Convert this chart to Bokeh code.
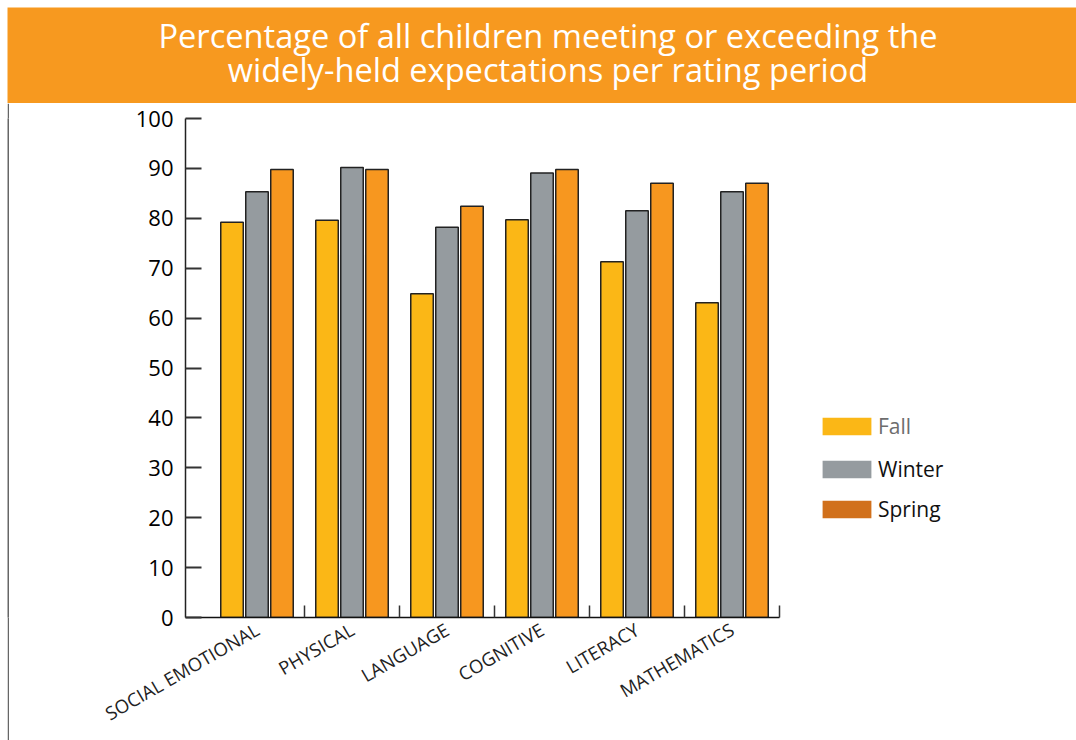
import math
from bokeh.plotting import figure
from bokeh.layouts import column, row
from bokeh.models import ColumnDataSource, FixedTicker, Range1d, Legend, LegendItem
from bokeh.transform import dodge
from bokeh.core.properties import value
from bokeh.embed import file_html
from bokeh.resources import INLINE

# ---------------- data ----------------
categories = ["SOCIAL EMOTIONAL", "PHYSICAL", "LANGUAGE", "COGNITIVE", "LITERACY", "MATHEMATICS"]
fall = [79.2, 79.6, 64.9, 79.7, 71.3, 63.1]
winter = [85.3, 90.2, 78.2, 89.1, 81.5, 85.3]
spring = [89.8, 89.8, 82.4, 89.8, 87.0, 87.0]
series_names = ["Fall", "Winter", "Spring"]
y_ticks = [0, 10, 20, 30, 40, 50, 60, 70, 80, 90, 100]
title_lines = ["Percentage of all children meeting or exceeding the",
               "widely-held expectations per rating period"]

# ---------------- style ----------------
ORANGE = "#F7991F"
C_FALL = "#FBB716"
C_WINTER = "#959B9F"
C_SPRING = "#F7971F"
C_SPRING_LEG = "#D1701B"
FONT = "Open Sans"

# ---------------- banner ----------------
BW, BH = 1069, 96
banner = figure(width=BW, height=BH, x_range=Range1d(0, BW), y_range=Range1d(0, BH),
                toolbar_location=None, output_backend="svg", min_border=0,
                x_axis_location=None, y_axis_location=None,
                background_fill_color=ORANGE, border_fill_color=ORANGE,
                outline_line_color=None, margin=(7, 0, 0, 7))
banner.grid.visible = False
banner.text(x=[540.5, 540.5], y=[68, 34], text=title_lines,
            text_font=value(FONT), text_font_size="32.6px", text_color="white",
            text_align="center", text_baseline="middle")

# ---------------- left rule ----------------
rule = figure(width=2, height=637, toolbar_location=None, output_backend="svg", min_border=0,
              x_axis_location=None, y_axis_location=None,
              background_fill_color="#666666", border_fill_color="#666666",
              outline_line_color=None, margin=(0, 0, 0, 7))
rule.grid.visible = False

# ---------------- main chart ----------------
W, H = 1067, 637
ML, MR, MT, MB = 176, 5, 15, 123
PX_PER_GROUP = 95.0
x_start = -24.0 / PX_PER_GROUP
x_end = x_start + (W - ML - MR) / PX_PER_GROUP

centers = [i + 0.5 for i in range(len(categories))]
src = ColumnDataSource(dict(x=centers, fall=fall, winter=winter, spring=spring))

p = figure(width=W, height=H, x_range=Range1d(x_start, x_end), y_range=Range1d(0, 100),
           toolbar_location=None, output_backend="svg",
           min_border_left=ML, min_border_right=MR, min_border_top=MT, min_border_bottom=MB,
           outline_line_color=None, background_fill_color="white", border_fill_color="white")
p.grid.visible = False

BAR_W = 0.237
OFF = 0.263
for col, off, color in [("fall", -OFF, C_FALL), ("winter", 0.0, C_WINTER), ("spring", OFF, C_SPRING)]:
    p.vbar(x=dodge("x", off), top=col, width=BAR_W, bottom=0, source=src,
           fill_color=color, line_color="#222222", line_width=1.5)

# y axis
ya = p.yaxis[0]
ya.ticker = FixedTicker(ticks=y_ticks)
ya.major_tick_in = 16
ya.major_tick_out = 0
ya.minor_tick_line_color = None
ya.major_tick_line_color = "#333333"
ya.major_tick_line_width = 2
ya.axis_line_color = "#222222"
ya.axis_line_width = 1.5
ya.major_label_standoff = 12
ya.major_label_text_font = FONT
ya.major_label_text_font_size = "22px"
ya.major_label_text_color = "#000000"

# x axis
xa = p.xaxis[0]
xa.ticker = FixedTicker(ticks=centers, minor_ticks=[1, 2, 3, 4, 5, 6])
xa.bounds = (x_start, 6)
xa.major_label_overrides = {c: n for c, n in zip(centers, categories)}
xa.major_tick_in = 0
xa.major_tick_out = 0
xa.minor_tick_in = 12
xa.minor_tick_out = 0
xa.minor_tick_line_color = "#333333"
xa.minor_tick_line_width = 1.5
xa.axis_line_color = "#111111"
xa.axis_line_width = 1.5
xa.major_label_orientation = math.pi / 6
xa.major_label_standoff = 10
xa.major_label_text_font = FONT
xa.major_label_text_font_size = "18.5px"
xa.major_label_text_color = "#222222"

# legend (swatch-only renderers, one invisible NaN point so the swatch is drawn)
leg_r = []
for color in [C_FALL, C_WINTER, C_SPRING_LEG]:
    s = ColumnDataSource(dict(x=[float("nan")], top=[float("nan")]))
    leg_r.append(p.vbar(x="x", top="top", width=0.2, source=s,
                        fill_color=color, line_color=None))

def make_legend(items, loc, color):
    lg = Legend(items=items, location=loc, orientation="vertical",
                glyph_width=61, glyph_height=22, label_height=18, spacing=12,
                label_standoff=1, padding=0, margin=0,
                border_line_color=None, background_fill_alpha=0,
                label_text_font=FONT, label_text_font_size="21px",
                label_text_color=color)
    p.add_layout(lg)
    return lg

make_legend([LegendItem(label=series_names[0], renderers=[leg_r[0]])], (631, 177), "#6D6D6D")
make_legend([LegendItem(label=series_names[1], renderers=[leg_r[1]]),
             LegendItem(label=series_names[2], renderers=[leg_r[2]])], (631, 94), "#111111")

layout = column(banner, row(rule, p))
open("out.html", "w").write(file_html(layout, INLINE))
